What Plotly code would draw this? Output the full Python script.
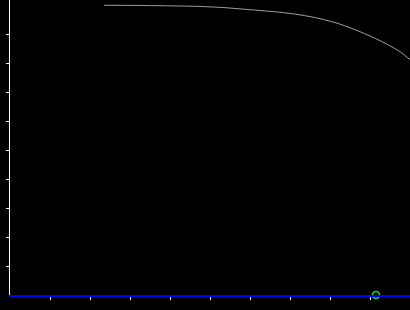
import plotly.graph_objects as go

# curve (data units: x per 40px tick, y per 29px tick)
curve_x = [2.35, 3.225, 4.0, 4.75, 5.35, 5.8, 6.25, 6.75, 7.25, 7.75, 8.25, 8.75, 9.25, 9.75, 10.0]
curve_y = [9.99, 9.985, 9.97, 9.95, 9.91, 9.86, 9.81, 9.75, 9.66, 9.53, 9.34, 9.08, 8.77, 8.39, 8.11]

point_x = [9.15]
point_y = [0.0]

x_ticks = [1, 2, 3, 4, 5, 6, 7, 8, 9]
y_ticks = [1, 2, 3, 4, 5, 6, 7, 8, 9]

fig = go.Figure()
fig.add_trace(go.Scatter(x=curve_x, y=curve_y, mode="lines",
                         line=dict(color="#a0a0a0", width=1, shape="spline", smoothing=0.8),
                         hoverinfo="skip", showlegend=False))
fig.add_trace(go.Scatter(x=point_x, y=point_y, mode="markers",
                         marker=dict(symbol="circle-open", size=7, color="#22dd22",
                                     line=dict(width=1.6, color="#22dd22")),
                         cliponaxis=False, showlegend=False))

fig.update_layout(
    width=410, height=310,
    margin=dict(l=10, r=0, t=0, b=15),
    paper_bgcolor="#000000", plot_bgcolor="#000000",
    xaxis=dict(range=[0, 10], tickvals=x_ticks, showticklabels=False,
               ticks="outside", ticklen=3, tickwidth=1, tickcolor="#ffffff",
               showline=True, linecolor="rgb(0,0,255)", linewidth=1.5,
               showgrid=False, zeroline=False, layer="above traces"),
    yaxis=dict(range=[0, 295 / 29], tickvals=y_ticks, showticklabels=False,
               ticks="outside", ticklen=3, tickwidth=1, tickcolor="#ffffff",
               showline=True, linecolor="#ffffff", linewidth=1,
               showgrid=False, zeroline=False),
)

fig.write_html("out.html")
